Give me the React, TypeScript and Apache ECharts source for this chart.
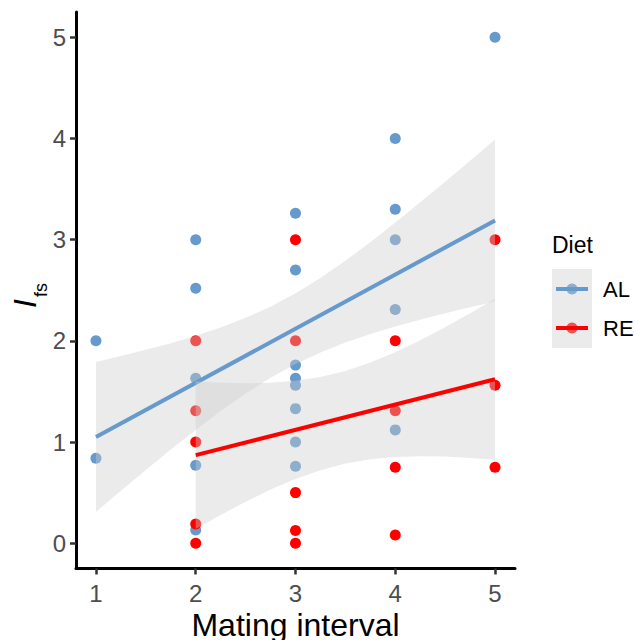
import React, { useEffect, useRef } from "react";
import * as echarts from "echarts";

// ---- data ----
const X_TICKS = [1, 2, 3, 4, 5];
const Y_TICKS = [0, 1, 2, 3, 4, 5];

const AL_X = [1, 1, 2, 2, 2, 2, 2, 3, 3, 3, 3, 3, 3, 3, 3, 4, 4, 4, 4, 4, 5];
const AL_Y = [2.0, 0.84, 3.0, 2.52, 1.63, 0.77, 0.13, 3.26, 2.7, 1.76, 1.63, 1.56, 1.33, 1.0, 0.76, 4.0, 3.3, 3.0, 2.31, 1.12, 5.0];

const RE_X = [2, 2, 2, 2, 2, 3, 3, 3, 3, 3, 4, 4, 4, 4, 5, 5, 5];
const RE_Y = [2.0, 1.31, 1.0, 0.19, 0.0, 3.0, 2.0, 0.5, 0.125, 0.0, 2.0, 1.31, 0.75, 0.08, 3.0, 1.56, 0.75];

// fitted lines (end points)
const AL_LINE_X = [1, 5];
const AL_LINE_Y = [1.05, 3.19];
const RE_LINE_X = [2, 5];
const RE_LINE_Y = [0.87, 1.62];

// confidence bands (edges)
const AL_BAND_X = [1, 1.25, 1.5, 1.75, 2, 2.25, 2.5, 2.75, 3, 3.25, 3.5, 3.75, 4, 4.25, 4.5, 4.75, 5];
const AL_BAND_HI = [1.79, 1.849, 1.912, 1.977, 2.05, 2.132, 2.227, 2.338, 2.47, 2.622, 2.792, 2.975, 3.169, 3.369, 3.573, 3.78, 3.991];
const AL_BAND_LO = [0.31, 0.519, 0.724, 0.925, 1.12, 1.306, 1.479, 1.634, 1.77, 1.886, 1.984, 2.067, 2.141, 2.209, 2.273, 2.332, 2.389];

const RE_BAND_X = [2, 2.25, 2.5, 2.75, 3, 3.25, 3.5, 3.75, 4, 4.25, 4.5, 4.75, 5];
const RE_BAND_HI = [1.6, 1.587, 1.58, 1.585, 1.605, 1.643, 1.703, 1.786, 1.888, 2.005, 2.134, 2.272, 2.415];
const RE_BAND_LO = [0.14, 0.279, 0.41, 0.53, 0.635, 0.722, 0.787, 0.829, 0.852, 0.86, 0.856, 0.843, 0.825];

const BLUE = "#6699CC";
const RED = "#FF0000";
const RIBBON = "rgba(204,204,204,0.4)";
const FONT = "'Liberation Sans', Arial, Helvetica, sans-serif";

function bandSeries(xs: number[], lo: number[], hi: number[], z: number) {
  return {
    type: "custom",
    z,
    silent: true,
    clip: false,
    data: xs.map((x, i) => [x, lo[i], hi[i]]),
    encode: { x: 0, y: [1, 2] },
    renderItem: (params: any, api: any) => {
      if (params.dataIndex !== 0) return null;
      const pts: number[][] = [];
      for (let i = 0; i < xs.length; i++) pts.push(api.coord([xs[i], hi[i]]));
      for (let i = xs.length - 1; i >= 0; i--) pts.push(api.coord([xs[i], lo[i]]));
      return { type: "polygon", shape: { points: pts }, style: { fill: RIBBON } };
    },
  };
}

export default function App() {
  const ref = useRef<HTMLDivElement>(null);
  useEffect(() => {
    if (!ref.current) return;
    const chart = echarts.init(ref.current, null, { renderer: "svg" });
    chart.setOption({
      animation: false,
      backgroundColor: "#FFFFFF",
      grid: { left: 76, right: 124, top: 12, bottom: 71.5, containLabel: false },
      xAxis: {
        type: "value",
        min: 0.8,
        max: 5.2,
        axisLine: { show: true, onZero: false, lineStyle: { color: "#000", width: 3 } },
        axisTick: { show: true, customValues: X_TICKS, length: 6, lineStyle: { color: "#333", width: 2.5 } },
        axisLabel: { customValues: X_TICKS, fontSize: 24, color: "#4D4D4D", margin: 13, fontFamily: FONT },
        splitLine: { show: false },
      },
      yAxis: {
        type: "value",
        min: -0.25,
        max: 5.25,
        axisLine: { show: true, onZero: false, lineStyle: { color: "#000", width: 3 } },
        axisTick: { show: true, customValues: Y_TICKS, length: 6, lineStyle: { color: "#333", width: 2.5 } },
        axisLabel: { customValues: Y_TICKS, fontSize: 24, color: "#4D4D4D", margin: 10, fontFamily: FONT },
        splitLine: { show: false },
      },
      series: [
        {
          type: "scatter",
          z: 1,
          symbolSize: 11,
          itemStyle: { color: BLUE, opacity: 1 },
          data: AL_X.map((x, i) => [x, AL_Y[i]]),
        },
        {
          type: "scatter",
          z: 1,
          symbolSize: 11,
          itemStyle: { color: RED, opacity: 1 },
          data: RE_X.map((x, i) => [x, RE_Y[i]]),
        },
        bandSeries(AL_BAND_X, AL_BAND_LO, AL_BAND_HI, 2),
        {
          type: "line",
          z: 3,
          symbol: "none",
          lineStyle: { color: BLUE, width: 4 },
          data: AL_LINE_X.map((x, i) => [x, AL_LINE_Y[i]]),
        },
        bandSeries(RE_BAND_X, RE_BAND_LO, RE_BAND_HI, 4),
        {
          type: "line",
          z: 5,
          symbol: "none",
          lineStyle: { color: RED, width: 4 },
          data: RE_LINE_X.map((x, i) => [x, RE_LINE_Y[i]]),
        },
      ],
      graphic: [
        {
          type: "text",
          x: 295.5,
          y: 625,
          style: { text: "Mating interval", font: `32px ${FONT}`, fill: "#000", align: "center", verticalAlign: "middle" },
        },
        {
          type: "text",
          x: 25,
          y: 308,
          rotation: Math.PI / 2,
          style: { text: "I", font: `italic 32px ${FONT}`, fill: "#000", align: "left", verticalAlign: "middle" },
        },
        {
          type: "text",
          x: 41,
          y: 297,
          rotation: Math.PI / 2,
          style: { text: "fs", font: `18px ${FONT}`, fill: "#000", align: "left", verticalAlign: "middle" },
        },
        {
          type: "text",
          x: 552,
          y: 245,
          style: { text: "Diet", font: `23px ${FONT}`, fill: "#000", align: "left", verticalAlign: "middle" },
        },
        { type: "rect", shape: { x: 552, y: 269, width: 40, height: 79 }, style: { fill: "#EBEBEB" } },
        { type: "circle", shape: { cx: 572, cy: 289, r: 5.5 }, style: { fill: "#8FADCC" } },
        { type: "line", shape: { x1: 556, y1: 289, x2: 588, y2: 289 }, style: { stroke: BLUE, lineWidth: 4 } },
        { type: "circle", shape: { cx: 572, cy: 328, r: 5.5 }, style: { fill: "#EB5252" } },
        { type: "line", shape: { x1: 556, y1: 328, x2: 588, y2: 328 }, style: { stroke: RED, lineWidth: 4 } },
        {
          type: "text",
          x: 603,
          y: 289,
          style: { text: "AL", font: `22px ${FONT}`, fill: "#000", align: "left", verticalAlign: "middle" },
        },
        {
          type: "text",
          x: 603,
          y: 328,
          style: { text: "RE", font: `22px ${FONT}`, fill: "#000", align: "left", verticalAlign: "middle" },
        },
      ],
    });
    return () => chart.dispose();
  }, []);
  return <div ref={ref} style={{ position: "fixed", left: 0, top: 0, width: 639, height: 640 }} />;
}
